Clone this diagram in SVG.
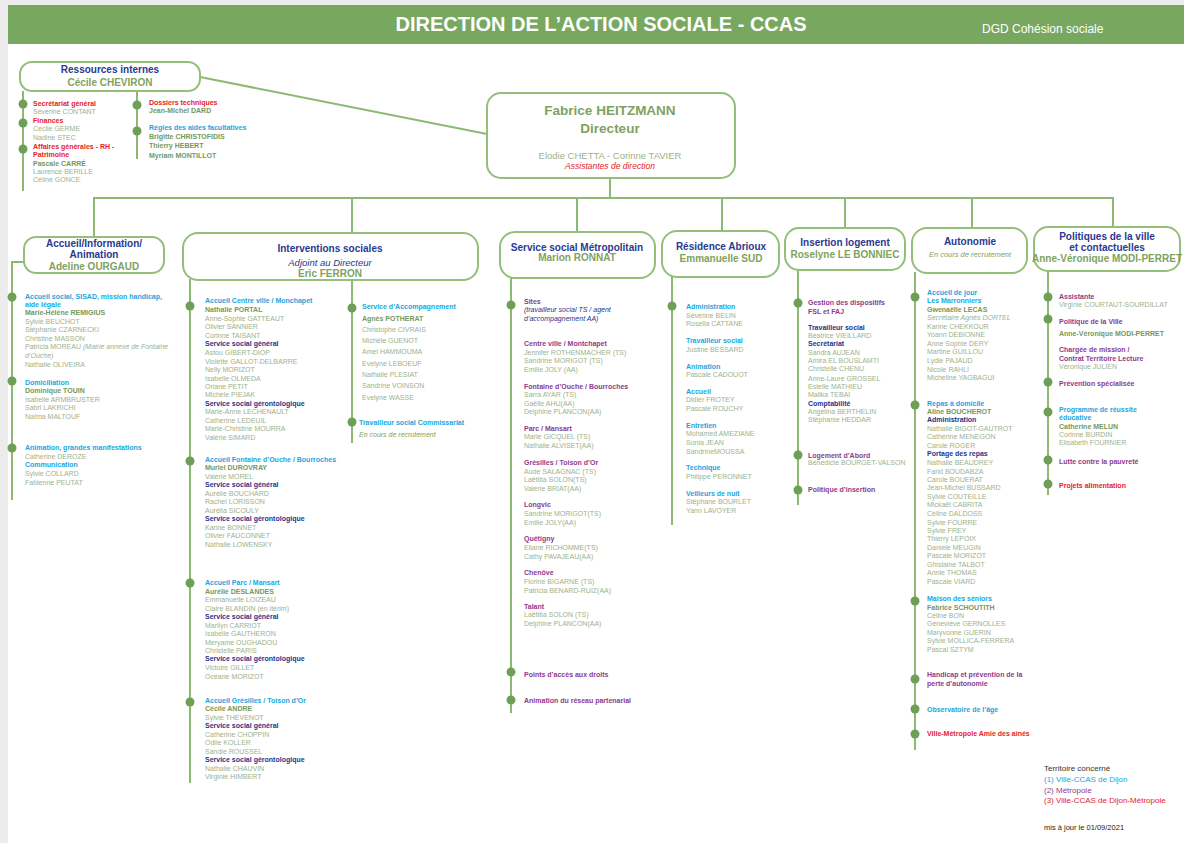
<svg xmlns="http://www.w3.org/2000/svg" width="1184" height="843" viewBox="0 0 1184 843">
<style>
text{font-family:"Liberation Sans",Arial,sans-serif}
.s{font-size:7px}
.n{fill:#9db28c}
.l{fill:#76995a;font-weight:bold}
.b{fill:#19a6e0;font-weight:bold}
.r{fill:#e52329;font-weight:bold}
.p{fill:#8e3b8c;font-weight:bold}
.v{fill:#27348b;font-weight:bold}
.vi{fill:#27348b;font-style:italic}
.i{font-style:italic}
.gi{fill:#7fa25f;font-style:italic}
.box{fill:#fff;stroke:#93bf78;stroke-width:2}
.ln{stroke:#8dba72;stroke-width:2;fill:none}
.dot{fill:#6e9f57}
.bt{font-size:10px;font-weight:bold;fill:#2a3990;text-anchor:middle}
.bn{font-size:10px;font-weight:bold;fill:#7fa25f;text-anchor:middle}
.lg{font-size:8px}
</style>
<rect x="0" y="0" width="1184" height="843" fill="#ececec"/>
<rect x="8" y="5" width="1176" height="838" fill="#ffffff"/>
<g id="header">
<rect x="8" y="5" width="1176" height="39" fill="#78a85f"/>
<text x="601" y="31" font-size="20" font-weight="bold" fill="#ffffff" text-anchor="middle">DIRECTION DE L’ACTION SOCIALE - CCAS</text>
<text x="982" y="33" font-size="12" fill="#ffffff">DGD Cohésion sociale</text>
</g>
<g id="connectors">
<line class="ln" x1="200" y1="77" x2="487" y2="134"/>
<line class="ln" x1="23" y1="91" x2="23" y2="191"/>
<line class="ln" x1="137" y1="91" x2="137" y2="159"/>
<line class="ln" x1="610" y1="178" x2="610" y2="198"/>
<line class="ln" x1="93" y1="198" x2="1114" y2="198"/>
<line class="ln" x1="94" y1="198" x2="94" y2="237"/>
<line class="ln" x1="352" y1="198" x2="352" y2="233"/>
<line class="ln" x1="577" y1="198" x2="577" y2="232"/>
<line class="ln" x1="722" y1="198" x2="722" y2="231"/>
<line class="ln" x1="845" y1="198" x2="845" y2="228"/>
<line class="ln" x1="972" y1="198" x2="972" y2="228"/>
<line class="ln" x1="1113" y1="198" x2="1113" y2="227"/>
<path class="ln" d="M24 262 H12 V500"/>
<line class="ln" x1="190" y1="279" x2="190" y2="783"/>
<line class="ln" x1="352" y1="280" x2="352" y2="443"/>
<line class="ln" x1="511" y1="277" x2="511" y2="713"/>
<line class="ln" x1="672" y1="276" x2="672" y2="525"/>
<line class="ln" x1="798" y1="269" x2="798" y2="505"/>
<line class="ln" x1="915" y1="272" x2="915" y2="750"/>
<line class="ln" x1="1048" y1="270" x2="1048" y2="495"/>
<g class="dot">
<circle cx="23" cy="104" r="4.5"/><circle cx="23" cy="123" r="4.5"/><circle cx="23" cy="149" r="4.5"/>
<circle cx="137" cy="105" r="4.5"/><circle cx="137" cy="131" r="4.5"/>
<circle cx="12" cy="297" r="4.5"/><circle cx="12" cy="381" r="4.5"/><circle cx="12" cy="448" r="4.5"/>
<circle cx="190" cy="306" r="4.5"/><circle cx="190" cy="461" r="4.5"/><circle cx="190" cy="583" r="4.5"/><circle cx="190" cy="702" r="4.5"/>
<circle cx="352" cy="308" r="4.5"/><circle cx="352" cy="422" r="4.5"/>
<circle cx="511" cy="305" r="4.5"/><circle cx="511" cy="672" r="4.5"/><circle cx="511" cy="700" r="4.5"/>
<circle cx="672" cy="306" r="4.5"/>
<circle cx="798" cy="303" r="4.5"/><circle cx="798" cy="455" r="4.5"/><circle cx="798" cy="490" r="4.5"/>
<circle cx="915" cy="297" r="4.5"/><circle cx="915" cy="405" r="4.5"/><circle cx="915" cy="601" r="4.5"/><circle cx="915" cy="679" r="4.5"/><circle cx="915" cy="709" r="4.5"/><circle cx="915" cy="734" r="4.5"/>
<circle cx="1048" cy="297" r="4.5"/><circle cx="1048" cy="319" r="4.5"/><circle cx="1048" cy="382" r="4.5"/><circle cx="1048" cy="412" r="4.5"/><circle cx="1048" cy="460" r="4.5"/><circle cx="1048" cy="484" r="4.5"/>
</g>
</g>
<g id="ressources">
<rect class="box" x="20" y="62" width="180" height="29" rx="12"/>
<text class="bt" x="110" y="73" font-size="10.5">Ressources internes</text>
<text class="bn" x="110" y="86" font-size="10.5">Cécile CHEVIRON</text>
<text class="s">
<tspan class="r" x="33" y="105.5">Secrétariat général</tspan>
<tspan class="n" x="33" y="113.5">Séverine CONTANT</tspan>
<tspan class="r" x="33" y="122.5">Finances</tspan>
<tspan class="n" x="33" y="130.5">Cécile GERME</tspan>
<tspan class="n" x="33" y="139.5">Nadine STEC</tspan>
<tspan class="r" x="33" y="148.5">Affaires générales - RH -</tspan>
<tspan class="r" x="33" y="156.5">Patrimoine</tspan>
<tspan class="l" x="33" y="165.5">Pascale CARRÉ</tspan>
<tspan class="n" x="33" y="173.5">Laurence BERILLE</tspan>
<tspan class="n" x="33" y="181.5">Céline GONCE</tspan>
<tspan class="r" x="149" y="104.5">Dossiers techniques</tspan>
<tspan class="l" x="149" y="112.5">Jean-Michel DARD</tspan>
<tspan class="b" x="149" y="129.5">Régies des aides facultatives</tspan>
<tspan class="l" x="149" y="138.5">Brigitte CHRISTOFIDIS</tspan>
<tspan class="l" x="149" y="147.5">Thierry HEBERT</tspan>
<tspan class="l" x="149" y="157.5">Myriam MONTILLOT</tspan>
</text>
</g>
<g id="directeur">
<rect class="box" x="487" y="93" width="248" height="85" rx="14"/>
<text x="610" y="115" font-size="13.5" font-weight="bold" fill="#7fa25f" text-anchor="middle">Fabrice HEITZMANN</text>
<text x="610" y="133" font-size="13.5" font-weight="bold" fill="#7fa25f" text-anchor="middle">Directeur</text>
<text x="610" y="158.5" font-size="9.5" fill="#9db28c" text-anchor="middle">Elodie CHETTA - Corinne TAVIER</text>
<text x="610" y="169" font-size="8.5" font-style="italic" fill="#e52329" text-anchor="middle">Assistantes de direction</text>
</g>
<g id="accueil">
<rect class="box" x="24" y="237" width="140" height="36" rx="12"/>
<text class="bt" x="94" y="247">Accueil/Information/</text>
<text class="bt" x="94" y="258">Animation</text>
<text class="bn" x="94" y="270">Adeline OURGAUD</text>
<text class="s">
<tspan class="b" x="25" y="298.5">Accueil social, SISAD, mission handicap,</tspan>
<tspan class="b" x="25" y="306.5">aide légale</tspan>
<tspan class="l" x="25" y="314.5">Marie-Hélène REMIGIUS</tspan>
<tspan class="n" x="25" y="323.5">Sylvie BEUCHOT</tspan>
<tspan class="n" x="25" y="331.5">Stéphanie CZARNECKI</tspan>
<tspan class="n" x="25" y="340.5">Christine MASSON</tspan>
<tspan class="n" x="25" y="348.5">Patricia MOREAU <tspan class="i">(Mairie annexe de Fontaine</tspan></tspan>
<tspan class="n i" x="25" y="357.5">d’Ouche)</tspan>
<tspan class="n" x="25" y="366.5">Nathalie OLIVEIRA</tspan>
<tspan class="b" x="25" y="384.5">Domiciliation</tspan>
<tspan class="l" x="25" y="392.5">Dominique TOUIN</tspan>
<tspan class="n" x="25" y="401.5">Isabelle ARMBRUSTER</tspan>
<tspan class="n" x="25" y="409.5">Sabri LAKRICHI</tspan>
<tspan class="n" x="25" y="418.5">Naïma MALTOUF</tspan>
<tspan class="b" x="25" y="449.5">Animation, grandes manifestations</tspan>
<tspan class="n" x="25" y="458.5">Catherine DEROZE</tspan>
<tspan class="b" x="25" y="466.5">Communication</tspan>
<tspan class="n" x="25" y="475.5">Sylvie COLLARD</tspan>
<tspan class="n" x="25" y="484.5">Fabienne PEUTAT</tspan>
</text>
</g>
<g id="interventions">
<rect class="box" x="183" y="233" width="295" height="47" rx="15"/>
<text class="bt" x="330" y="252">Interventions sociales</text>
<text x="330" y="266" font-size="9.5" font-style="italic" fill="#2a3990" text-anchor="middle">Adjoint au Directeur</text>
<text class="bn" x="330" y="277" font-size="9.5">Eric FERRON</text>
<text class="s">
<tspan class="b" x="205" y="303">Accueil Centre ville / Monchapet</tspan>
<tspan class="l" x="205" y="311.5">Nathalie PORTAL</tspan>
<tspan class="n" x="205" y="320.5">Anne-Sophie GATTEAUT</tspan>
<tspan class="n" x="205" y="328.5">Olivier SANNIER</tspan>
<tspan class="n" x="205" y="337.5">Corinne TAISANT</tspan>
<tspan class="v" x="205" y="345.5">Service social général</tspan>
<tspan class="n" x="205" y="354.5">Astou GIBERT-DIOP</tspan>
<tspan class="n" x="205" y="363.5">Violette GALLOT-DELBARRE</tspan>
<tspan class="n" x="205" y="371.5">Nelly MORIZOT</tspan>
<tspan class="n" x="205" y="380.5">Isabelle OLMEDA</tspan>
<tspan class="n" x="205" y="388.5">Oriane PETIT</tspan>
<tspan class="n" x="205" y="396.5">Michèle PIEJAK</tspan>
<tspan class="v" x="205" y="405.5">Service social gérontologique</tspan>
<tspan class="n" x="205" y="413.5">Marie-Anne LECHENAULT</tspan>
<tspan class="n" x="205" y="422.5">Catherine LEDEUIL</tspan>
<tspan class="n" x="205" y="430.5">Marie-Christine MOURRA</tspan>
<tspan class="n" x="205" y="439.5">Valérie SIMARD</tspan>
<tspan class="b" x="205" y="461.5">Accueil Fontaine d’Ouche / Bourroches</tspan>
<tspan class="l" x="205" y="469.5">Muriel DUROVRAY</tspan>
<tspan class="n" x="205" y="478.5">Valérie MOREL</tspan>
<tspan class="v" x="205" y="486.5">Service social général</tspan>
<tspan class="n" x="205" y="495.5">Aurélie BOUCHARD</tspan>
<tspan class="n" x="205" y="503.5">Rachel LORISSON</tspan>
<tspan class="n" x="205" y="512.5">Aurélia SICOULY</tspan>
<tspan class="v" x="205" y="520.5">Service social gérontologique</tspan>
<tspan class="n" x="205" y="529.5">Karine BONNET</tspan>
<tspan class="n" x="205" y="537.5">Olivier FAUCONNET</tspan>
<tspan class="n" x="205" y="546.5">Nathalie LOWENSKY</tspan>
<tspan class="b" x="205" y="584.5">Accueil Parc / Mansart</tspan>
<tspan class="l" x="205" y="593.5">Aurélie DESLANDES</tspan>
<tspan class="n" x="205" y="601.5">Emmanuelle LOIZEAU</tspan>
<tspan class="n" x="205" y="610.5">Claire BLANDIN (en itérim)</tspan>
<tspan class="v" x="205" y="618.5">Service social général</tspan>
<tspan class="n" x="205" y="627.5">Marilyn CARRIOT</tspan>
<tspan class="n" x="205" y="635.5">Isabelle GAUTHERON</tspan>
<tspan class="n" x="205" y="644.5">Meryame OUGHADOU</tspan>
<tspan class="n" x="205" y="652.5">Christelle PARIS</tspan>
<tspan class="v" x="205" y="660.5">Service social gérontologique</tspan>
<tspan class="n" x="205" y="669.5">Victoire GILLET</tspan>
<tspan class="n" x="205" y="678.5">Océane MORIZOT</tspan>
<tspan class="b" x="205" y="702.5">Accueil Grésilles / Toison d’Or</tspan>
<tspan class="l" x="205" y="710.5">Cécile ANDRE</tspan>
<tspan class="n" x="205" y="719.5">Sylvie THEVENOT</tspan>
<tspan class="v" x="205" y="727.5">Service social général</tspan>
<tspan class="n" x="205" y="736.5">Catherine CHOPPIN</tspan>
<tspan class="n" x="205" y="744.5">Odile KOLLER</tspan>
<tspan class="n" x="205" y="753.5">Sandie ROUSSEL</tspan>
<tspan class="v" x="205" y="761.5">Service social gérontologique</tspan>
<tspan class="n" x="205" y="770.5">Nathalie CHAUVIN</tspan>
<tspan class="n" x="205" y="778.5">Virginie HIMBERT</tspan>
<tspan class="b" x="362" y="308.5">Service d’Accompagnement</tspan>
<tspan class="l" x="362" y="320.5">Agnès POTHERAT</tspan>
<tspan class="n" x="362" y="331.5">Christophe CIVRAIS</tspan>
<tspan class="n" x="362" y="342.5">Michèle GUENOT</tspan>
<tspan class="n" x="362" y="353.5">Amel HAMMOUMA</tspan>
<tspan class="n" x="362" y="365.5">Evelyne LEBOEUF</tspan>
<tspan class="n" x="362" y="376.5">Nathalie PLESIAT</tspan>
<tspan class="n" x="362" y="387.5">Sandrine VOINSON</tspan>
<tspan class="n" x="362" y="399.5">Evelyne WASSE</tspan>
<tspan class="b" x="359" y="424.5">Travailleur social Commissariat</tspan>
<tspan class="gi" x="359" y="436.5">En cours de recrutement</tspan>
</text>
</g>
<g id="service-social">
<rect class="box" x="500" y="232" width="155" height="46" rx="15"/>
<text class="bt" x="577" y="251">Service social Métropolitain</text>
<text class="bn" x="577" y="261">Marion RONNAT</text>
<text class="s">
<tspan class="p" x="524" y="303.5">Sites</tspan>
<tspan class="vi" x="524" y="311.5">(travailleur social TS / agent</tspan>
<tspan class="vi" x="524" y="320.5">d’accompagnement AA)</tspan>
<tspan class="p" x="524" y="345.5">Centre ville / Montchapet</tspan>
<tspan class="n" x="524" y="354.5">Jennifer ROTHENMACHER (TS)</tspan>
<tspan class="n" x="524" y="362.5">Sandrine MORIGOT (TS)</tspan>
<tspan class="n" x="524" y="371.5">Emilie JOLY (AA)</tspan>
<tspan class="p" x="524" y="388.5">Fontaine d’Ouche / Bourroches</tspan>
<tspan class="n" x="524" y="396.5">Sarra AYAR (TS)</tspan>
<tspan class="n" x="524" y="405.5">Gaëlle AHU(AA)</tspan>
<tspan class="n" x="524" y="413.5">Delphine PLANCON(AA)</tspan>
<tspan class="p" x="524" y="430.5">Parc / Mansart</tspan>
<tspan class="n" x="524" y="438.5">Marie GICQUEL (TS)</tspan>
<tspan class="n" x="524" y="447.5">Nathalie ALVISET(AA)</tspan>
<tspan class="p" x="524" y="464.5">Grésilles / Toison d’Or</tspan>
<tspan class="n" x="524" y="473.5">Aude SALAGNAC (TS)</tspan>
<tspan class="n" x="524" y="481.5">Laëtitia SOLON(TS)</tspan>
<tspan class="n" x="524" y="490.5">Valérie BRIAT(AA)</tspan>
<tspan class="p" x="524" y="506.5">Longvic</tspan>
<tspan class="n" x="524" y="515.5">Sandrine MORIGOT(TS)</tspan>
<tspan class="n" x="524" y="524.5">Emilie JOLY(AA)</tspan>
<tspan class="p" x="524" y="540.5">Quétigny</tspan>
<tspan class="n" x="524" y="549.5">Eliane RICHOMME(TS)</tspan>
<tspan class="n" x="524" y="558.5">Cathy PAVAJEAU(AA)</tspan>
<tspan class="p" x="524" y="574.5">Chenôve</tspan>
<tspan class="n" x="524" y="583.5">Florine BIGARNE (TS)</tspan>
<tspan class="n" x="524" y="592.5">Patricia BENARD-RUIZ(AA)</tspan>
<tspan class="p" x="524" y="608.5">Talant</tspan>
<tspan class="n" x="524" y="616.5">Laëtitia SOLON (TS)</tspan>
<tspan class="n" x="524" y="625.5">Delphine PLANCON(AA)</tspan>
<tspan class="p" x="524" y="676.5">Points d’accès aux droits</tspan>
<tspan class="p" x="524" y="702.5">Animation du réseau partenarial</tspan>
</text>
</g>
<g id="residence">
<rect class="box" x="662" y="231" width="117" height="46" rx="15"/>
<text class="bt" x="721" y="250">Résidence Abrioux</text>
<text class="bn" x="721" y="262">Emmanuelle SUD</text>
<text class="s">
<tspan class="b" x="686" y="308.5">Administration</tspan>
<tspan class="n" x="686" y="317.5">Séverine BELIN</tspan>
<tspan class="n" x="686" y="325.5">Rosella CATTANE</tspan>
<tspan class="b" x="686" y="342.5">Travailleur social</tspan>
<tspan class="n" x="686" y="351.5">Justine BESSARD</tspan>
<tspan class="b" x="686" y="368.5">Animation</tspan>
<tspan class="n" x="686" y="376.5">Pascale CADOUOT</tspan>
<tspan class="b" x="686" y="393.5">Accueil</tspan>
<tspan class="n" x="686" y="401.5">Didier FROTEY</tspan>
<tspan class="n" x="686" y="410.5">Pascale ROUCHY</tspan>
<tspan class="b" x="686" y="427.5">Entretien</tspan>
<tspan class="n" x="686" y="435.5">Mohamed AMEZIANE</tspan>
<tspan class="n" x="686" y="444.5">Sonia JEAN</tspan>
<tspan class="n" x="686" y="453.5">SandrineMOUSSA</tspan>
<tspan class="b" x="686" y="469.5">Technique</tspan>
<tspan class="n" x="686" y="478.5">Philippe PERONNET</tspan>
<tspan class="b" x="686" y="495.5">Veilleurs de nuit</tspan>
<tspan class="n" x="686" y="503.5">Stéphane BOURLET</tspan>
<tspan class="n" x="686" y="512.5">Yann LAVOYER</tspan>
</text>
</g>
<g id="insertion">
<rect class="box" x="785" y="228" width="120" height="42" rx="14"/>
<text class="bt" x="845" y="246">Insertion logement</text>
<text class="bn" x="845" y="258" font-size="9.5">Roselyne LE BONNIEC</text>
<text class="s">
<tspan class="p" x="808" y="304.5">Gestion des dispositifs</tspan>
<tspan class="p" x="808" y="313.5">FSL et FAJ</tspan>
<tspan class="v" x="808" y="329.5">Travailleur social</tspan>
<tspan class="n" x="808" y="337.5">Béatrice VIEILLARD</tspan>
<tspan class="v" x="808" y="345.5">Secrétariat</tspan>
<tspan class="n" x="808" y="354.5">Sandra AUJEAN</tspan>
<tspan class="n" x="808" y="362.5">Amira EL BOUSLAMTI</tspan>
<tspan class="n" x="808" y="370.5">Christelle CHENU</tspan>
<tspan class="n" x="808" y="380.5">Anne-Laure GROSSEL</tspan>
<tspan class="n" x="808" y="388.5">Estelle MATHIEU</tspan>
<tspan class="n" x="808" y="396.5">Malika TEBAI</tspan>
<tspan class="v" x="808" y="405.5">Comptabilité</tspan>
<tspan class="n" x="808" y="413.5">Angélina BERTHELIN</tspan>
<tspan class="n" x="808" y="421.5">Stéphanie HEDDAR</tspan>
<tspan class="p" x="808" y="457.5">Logement d’Abord</tspan>
<tspan class="n" x="808" y="464.5">Bénédicte BOURGET-VALSON</tspan>
<tspan class="p" x="808" y="491.5">Politique d’insertion</tspan>
</text>
</g>
<g id="autonomie">
<rect class="box" x="912" y="228" width="115" height="45" rx="15"/>
<text class="bt" x="970" y="245">Autonomie</text>
<text class="gi" x="970" y="257" font-size="7.5" text-anchor="middle">En cours de recrutement</text>
<text class="s">
<tspan class="b" x="927" y="294.5">Accueil de jour</tspan>
<tspan class="b" x="927" y="302.5">Les Marronniers</tspan>
<tspan class="l" x="927" y="311.5">Gwenaëlle LECAS</tspan>
<tspan class="n i" x="927" y="319.5">Secrétaire Agnès DORTEL</tspan>
<tspan class="n" x="927" y="328.5">Karine CHEKKOUR</tspan>
<tspan class="n" x="927" y="336.5">Yoann DEBIONNE</tspan>
<tspan class="n" x="927" y="345.5">Anne Sophie DERY</tspan>
<tspan class="n" x="927" y="353.5">Martine GUILLOU</tspan>
<tspan class="n" x="927" y="362.5">Lydie PAJAUD</tspan>
<tspan class="n" x="927" y="371.5">Nicole RAHLI</tspan>
<tspan class="n" x="927" y="379.5">Micheline YAGBAGUI</tspan>
<tspan class="b" x="927" y="405.5">Repas à domicile</tspan>
<tspan class="l" x="927" y="413.5">Aline BOUCHEROT</tspan>
<tspan class="v" x="927" y="421.5">Administration</tspan>
<tspan class="n" x="927" y="430.5">Nathalie BIGOT-GAUTROT</tspan>
<tspan class="n" x="927" y="438.5">Catherine MENEGON</tspan>
<tspan class="n" x="927" y="447.5">Carole ROGER</tspan>
<tspan class="v" x="927" y="455.5">Portage des repas</tspan>
<tspan class="n" x="927" y="464.5">Nathalie BEAUDREY</tspan>
<tspan class="n" x="927" y="473.5">Farid BOUDABZA</tspan>
<tspan class="n" x="927" y="481.5">Carole BOUERAT</tspan>
<tspan class="n" x="927" y="489.5">Jean-Michel BUSSARD</tspan>
<tspan class="n" x="927" y="498.5">Sylvie COUTEILLE</tspan>
<tspan class="n" x="927" y="506.5">Mickaël CABRITA</tspan>
<tspan class="n" x="927" y="515.5">Céline DALDOSS</tspan>
<tspan class="n" x="927" y="524.5">Sylvie FOURRE</tspan>
<tspan class="n" x="927" y="532.5">Sylvie FREY</tspan>
<tspan class="n" x="927" y="540.5">Thierry LEPOIX</tspan>
<tspan class="n" x="927" y="549.5">Danièle MEUGIN</tspan>
<tspan class="n" x="927" y="557.5">Pascale MORIZOT</tspan>
<tspan class="n" x="927" y="566.5">Ghislaine TALBOT</tspan>
<tspan class="n" x="927" y="574.5">Annie THOMAS</tspan>
<tspan class="n" x="927" y="583.5">Pascale VIARD</tspan>
<tspan class="b" x="927" y="600.5">Maison des séniors</tspan>
<tspan class="l" x="927" y="609.5">Fabrice SCHOUTITH</tspan>
<tspan class="n" x="927" y="617.5">Céline BON</tspan>
<tspan class="n" x="927" y="625.5">Geneviève GERNOLLES</tspan>
<tspan class="n" x="927" y="634.5">Maryvonne GUERIN</tspan>
<tspan class="n" x="927" y="642.5">Sylvie MOLLICA-FERRERA</tspan>
<tspan class="n" x="927" y="651.5">Pascal SZTYM</tspan>
<tspan class="p" x="927" y="676.5">Handicap et prévention de la</tspan>
<tspan class="p" x="927" y="685.5">perte d’autonomie</tspan>
<tspan class="b" x="927" y="711.5">Observatoire de l’âge</tspan>
<tspan class="r" x="927" y="735.5">Ville-Métropole Amie des aînés</tspan>
</text>
</g>
<g id="politiques">
<rect class="box" x="1034" y="227" width="146" height="44" rx="14"/>
<text class="bt" x="1107" y="240">Politiques de la ville</text>
<text class="bt" x="1107" y="251">et contactuelles</text>
<text class="bn" x="1107" y="262" font-size="9.3">Anne-Véronique MODI-PERRET</text>
<text class="s">
<tspan class="p" x="1059" y="298.5">Assistante</tspan>
<tspan class="n" x="1059" y="306.5">Virginie COURTAUT-SOURDILLAT</tspan>
<tspan class="p" x="1059" y="323.5">Politique de la Ville</tspan>
<tspan class="l" x="1059" y="335.5">Anne-Véronique MODI-PERRET</tspan>
<tspan class="p" x="1059" y="351.5">Chargée de mission  /</tspan>
<tspan class="p" x="1059" y="360.5">Contrat Territoire Lecture</tspan>
<tspan class="n" x="1059" y="368.5">Véronique JULIEN</tspan>
<tspan class="p" x="1059" y="385.5">Prévention spécialisée</tspan>
<tspan class="b" x="1059" y="411.5">Programme de réussite</tspan>
<tspan class="b" x="1059" y="419.5">éducative</tspan>
<tspan class="l" x="1059" y="428.5">Catherine MELUN</tspan>
<tspan class="n" x="1059" y="436.5">Corinne BURDIN</tspan>
<tspan class="n" x="1059" y="444.5">Elisabeth FOURNIER</tspan>
<tspan class="p" x="1059" y="463.5">Lutte contre la pauvreté</tspan>
<tspan class="r" x="1059" y="487.5">Projets alimentation</tspan>
</text>
</g>
<g id="legende">
<text class="lg">
<tspan x="1044" y="770.5" fill="#333333">Territoire concerné</tspan>
<tspan x="1044" y="781.5" fill="#19a6e0">(1) Ville-CCAS de Dijon</tspan>
<tspan x="1044" y="792.5" fill="#8e3b8c">(2) Métropole</tspan>
<tspan x="1044" y="802.5" fill="#e52329">(3) Ville-CCAS de Dijon-Métropole</tspan>
<tspan x="1044" y="829.5" fill="#222222" font-size="7.5">mis à jour le 01/09/2021</tspan>
</text>
</g>
</svg>
